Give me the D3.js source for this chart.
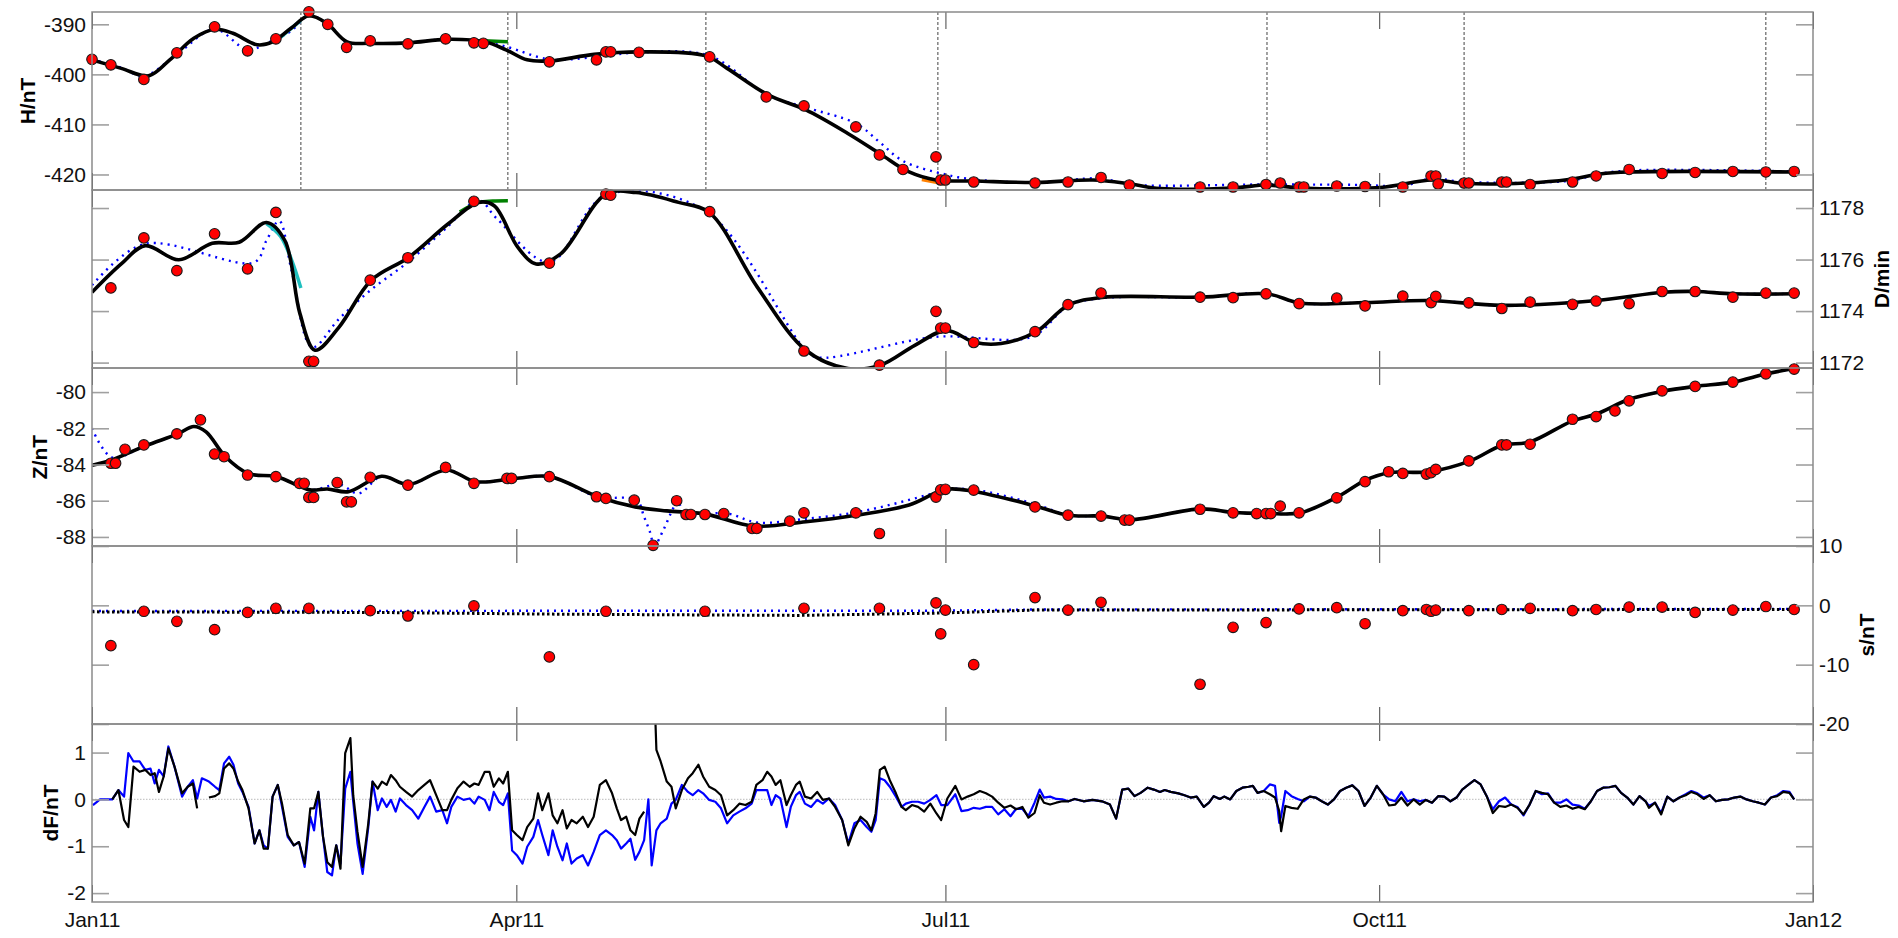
<!DOCTYPE html>
<html><head><meta charset="utf-8">
<script src="https://cdn.jsdelivr.net/npm/d3@7"></script>
<style>body{margin:0;background:#fff;} text{font-family:"Liberation Sans",Arial,Helvetica,sans-serif;}</style>
</head><body><svg id="c" width="1898" height="938"></svg>
<script>
// ---- data (t = days since 2011-01-01) ----
const xTickDates = ["2011-01-01","2011-04-01","2011-07-01","2011-10-01","2012-01-01"];
const xTickLabels = ["Jan11","Apr11","Jul11","Oct11","Jan12"];
const breakDays = [44.3, 88.2, 130.2, 179.4, 249.2, 291.0, 355.0];

const hTicks = [-420,-410,-400,-390];
const dTicks = [1172,1174,1176,1178];
const zTicks = [-88,-86,-84,-82,-80];
const sTicks = [-20,-10,0,10];
const fTicks = [-2,-1,0,1];

const hObs = [[0,-397.0],[4,-398.1],[11,-401.0],[18,-395.7],[26,-390.5],[33,-395.3],[39,-392.9],[46,-387.5],[50,-390.0],[54,-394.6],[59,-393.3],[67,-393.9],[75,-392.9],[81,-393.7],[83,-393.8],[97,-397.5],[107,-397.1],[109,-395.5],[110,-395.5],[116,-395.6],[131,-396.5],[143,-404.5],[151,-406.3],[162,-410.5],[167,-416.1],[172,-419.0],[179,-416.5],[180,-421.1],[181,-421.1],[187,-421.5],[200,-421.7],[207,-421.5],[214,-420.6],[220,-422.1],[235,-422.5],[242,-422.5],[249,-422.0],[252,-421.7],[256,-422.5],[257,-422.5],[264,-422.3],[270,-422.4],[278,-422.5],[284,-420.3],[285,-420.3],[285.5,-421.9],[291,-421.7],[292,-421.7],[299,-421.5],[300,-421.5],[305,-422.0],[314,-421.5],[319,-420.3],[326,-419.0],[333,-419.8],[340,-419.6],[348,-419.4],[355,-419.5],[361,-419.4]];
const hFit = [[0,-397.1],[6.2,-398.8],[12,-400.3],[16.5,-397.1],[21.6,-392.8],[26.1,-391.0],[29.9,-391.8],[35.1,-394.1],[38.3,-393.5],[42.2,-390.8],[46,-388.3],[49.8,-389.8],[54.1,-393.5],[58.9,-393.8],[67.2,-393.7],[75.2,-393.0],[83.3,-393.5],[87.8,-395.1],[92.3,-397.1],[97.3,-397.3],[106.5,-396.0],[116.3,-395.5],[130.2,-396.3],[134.7,-398.8],[143.4,-404.1],[151.4,-407.1],[160.3,-411.8],[167.2,-415.9],[173.3,-419.5],[179,-421.1],[187.3,-421.3],[200.2,-421.6],[212.3,-421.1],[220.3,-421.9],[226.5,-422.8],[242,-422.7],[249.2,-422.1],[256.2,-422.7],[273.2,-422.6],[284.2,-421.1],[291.3,-421.8],[304.3,-421.7],[313.2,-421.0],[319.8,-419.9],[326,-419.5],[361,-419.5]];
const hAlt = [[0,-397.0],[6,-398.6],[11,-400.3],[18,-396.0],[26,-391.0],[33,-395.0],[39,-392.9],[42,-391.5],[46,-388.3],[50,-389.9],[54,-393.5],[59,-393.8],[67,-393.7],[75,-393.0],[83,-393.5],[88,-394.5],[97,-397.0],[107,-396.5],[116,-395.6],[131,-396.3],[143,-404.0],[151,-406.5],[162,-409.8],[167,-413.5],[172,-417.3],[181,-420.0],[187,-421.0],[200,-421.6],[214,-420.8],[220,-422.0],[249,-422.0],[270,-422.1],[278,-422.3],[284,-420.8],[291,-421.5],[314,-421.2],[319,-420.0],[326,-419.2],[361,-419.4]];
const hCyan = [[40,-392.6],[42,-391.0],[44.3,-389.2]];
const hGreen = [[83,-393.3],[88.2,-393.5]];
const hOrange = [[176,-421.0],[181,-421.9]];

const dObs = [[4,1174.9],[11,1176.84],[18,1175.57],[26,1177.0],[33,1175.64],[39,1177.83],[46,1172.05],[47,1172.05],[59,1175.2],[67,1176.07],[81,1178.26],[97,1175.86],[109,1178.54],[110,1178.5],[131,1177.86],[151,1172.45],[167,1171.9],[179,1173.99],[180,1173.34],[181,1173.34],[187,1172.78],[200,1173.2],[207,1174.25],[214,1174.7],[235,1174.54],[242,1174.52],[249,1174.67],[256,1174.29],[264,1174.5],[270,1174.2],[278,1174.58],[284,1174.33],[285,1174.57],[292,1174.32],[299,1174.1],[305,1174.35],[314,1174.26],[319,1174.39],[326,1174.29],[333,1174.76],[340,1174.76],[348,1174.54],[355,1174.7],[361,1174.7]];
const dFit = [[0,1174.73],[6.2,1175.83],[11.3,1176.54],[18.4,1175.99],[25.5,1176.63],[31.2,1176.67],[37,1177.44],[40.9,1176.74],[44.1,1173.9],[47.3,1172.48],[52.4,1173.38],[59.2,1175.19],[67.2,1176.09],[75.5,1177.38],[82,1178.22],[85.3,1178.09],[90.3,1176.48],[94.2,1175.83],[99.4,1176.22],[109,1178.54],[115.4,1178.6],[124.4,1178.22],[130.9,1177.83],[141.1,1174.93],[151.4,1172.48],[160.3,1171.77],[167.2,1171.9],[174.5,1172.67],[181.2,1173.25],[187.3,1172.78],[192.8,1172.74],[200.2,1173.19],[207,1174.22],[214.2,1174.53],[235.2,1174.54],[249.2,1174.67],[256.3,1174.31],[270.2,1174.33],[283.6,1174.41],[299,1174.22],[319.2,1174.41],[333.2,1174.73],[340.2,1174.76],[348,1174.67],[361,1174.67]];
const dAlt = [[0,1175.0],[11,1176.6],[34.5,1175.9],[37,1176.74],[39.7,1177.5],[42.3,1175.6],[46.7,1172.6],[52.4,1173.7],[59,1174.8],[67,1175.9],[75,1177.2],[82,1178.3],[85.8,1177.6],[97,1175.9],[109,1178.5],[130,1177.9],[151.3,1172.5],[154,1172.2],[179,1173.0],[199.3,1173.0],[207,1174.2],[214,1174.5],[235,1174.54],[249,1174.67],[256,1174.31],[270,1174.33],[284,1174.41],[299,1174.22],[319,1174.41],[333,1174.73],[340,1174.76],[348,1174.67],[361,1174.67]];
const dCyan = [[37,1177.4],[40,1176.9],[42.3,1176.0],[44.3,1174.9]];
const dGreen = [[78,1177.85],[82,1178.22],[85,1178.27],[88.2,1178.28]];

const zObs = [[4,-83.93],[5,-83.93],[7,-83.16],[11,-82.92],[18,-82.31],[23,-81.53],[26,-83.42],[28,-83.57],[33,-84.58],[39,-84.67],[44,-85.04],[45,-85.04],[46,-85.82],[47,-85.82],[52,-85.0],[54,-86.06],[55,-86.06],[59,-84.71],[67,-85.14],[75,-84.16],[81,-85.04],[88,-84.77],[89,-84.77],[97,-84.67],[107,-85.78],[109,-85.87],[115,-85.97],[119,-88.46],[124,-86.0],[126,-86.76],[127,-86.76],[130,-86.76],[134,-86.71],[140,-87.53],[141,-87.53],[148,-87.13],[151,-86.67],[162,-86.67],[167,-87.81],[179,-85.8],[180,-85.4],[181,-85.37],[187,-85.41],[200,-86.34],[207,-86.8],[214,-86.85],[219,-87.07],[220,-87.07],[235,-86.47],[242,-86.67],[247,-86.71],[249,-86.71],[250,-86.71],[252,-86.3],[256,-86.67],[264,-85.84],[270,-84.95],[275,-84.4],[278,-84.49],[283,-84.53],[284,-84.45],[285,-84.27],[292,-83.8],[299,-82.92],[300,-82.92],[305,-82.88],[314,-81.5],[319,-81.35],[323,-81.04],[326,-80.48],[333,-79.93],[340,-79.69],[348,-79.45],[355,-78.99],[361,-78.73]];
const zFit = [[0,-84.04],[4.2,-83.75],[11.3,-82.97],[18.2,-82.31],[21.6,-81.9],[24.2,-82.2],[28.3,-83.57],[33.2,-84.5],[39.2,-84.67],[46.2,-85.4],[49.9,-85.35],[54.4,-85.5],[61.4,-84.65],[67.2,-85.1],[75.2,-84.3],[81.4,-84.95],[89.7,-84.77],[97.1,-84.67],[107.3,-85.78],[115.2,-86.34],[121.9,-86.56],[130.2,-86.74],[140.2,-87.4],[151.4,-87.16],[162,-86.8],[173.3,-86.24],[181.1,-85.37],[187.3,-85.5],[200.2,-86.3],[207,-86.8],[214.2,-86.85],[220.2,-87.05],[235.2,-86.45],[242,-86.65],[249.2,-86.7],[256.2,-86.67],[264.1,-85.8],[270.2,-84.85],[275.1,-84.45],[283.6,-84.4],[292.3,-83.8],[299,-82.95],[305,-82.75],[313.9,-81.6],[319.2,-81.2],[326,-80.4],[333.2,-79.95],[340.2,-79.68],[348,-79.45],[355,-79.0],[361,-78.7]];
const zAlt = [[0,-82.0],[4.2,-83.6],[11.3,-82.97],[18.2,-82.31],[21.6,-81.9],[24.2,-82.2],[28.3,-83.57],[33.2,-84.5],[39.2,-84.67],[46.2,-85.4],[52.5,-85.1],[56.5,-85.6],[61.4,-84.65],[67.2,-85.1],[75.2,-84.3],[81.4,-84.95],[89.7,-84.77],[97.1,-84.67],[107.3,-85.78],[115.5,-85.97],[117.1,-86.9],[118.3,-87.7],[119.3,-88.46],[121.2,-87.6],[123.1,-86.5],[124.2,-86.0],[125.7,-86.7],[134.7,-86.7],[141,-87.2],[151.4,-87.0],[162.9,-86.6],[178.3,-85.6],[181.1,-85.37],[187.3,-85.4],[200.2,-86.2],[207,-86.8],[214.2,-86.85],[220.2,-87.05],[235.2,-86.45],[242,-86.65],[249.2,-86.7],[256.2,-86.67],[264.1,-85.8],[270.2,-84.85],[275.1,-84.45],[283.6,-84.4],[292.3,-83.8],[299,-82.95],[305,-82.75],[313.9,-81.6],[319.2,-81.2],[326,-80.4],[333.2,-79.95],[340.2,-79.68],[348,-79.45],[355,-79.0],[361,-78.7]];

const sObs = [[4,-6.8],[11,-1.0],[18,-2.7],[26,-4.1],[33,-1.2],[39,-0.5],[46,-0.5],[59,-0.9],[67,-1.8],[81,-0.1],[97,-8.7],[109,-1.0],[130,-1.0],[151,-0.5],[167,-0.5],[179,0.4],[180,-4.8],[181,-0.8],[187,-10.0],[200,1.3],[207,-0.8],[214,0.5],[235,-13.3],[242,-3.7],[249,-2.9],[256,-0.6],[264,-0.4],[270,-3.1],[278,-0.9],[283,-0.7],[284,-1.0],[285,-0.8],[292,-0.9],[299,-0.7],[305,-0.5],[314,-0.9],[319,-0.7],[326,-0.3],[333,-0.3],[340,-1.2],[348,-0.8],[355,-0.2],[361,-0.7]];
const sFit = [[0,-1.1],[60,-1.2],[100,-1.5],[150,-1.7],[180,-1.3],[200,-0.8],[361,-0.7]];
const sAlt = [[0,-0.95],[180,-0.9],[200,-0.7],[361,-0.6]];

const dfDay = [0.2,1.7,4.3,5.6,6.8,7.7,8.8,10.1,11.3,12.4,13.3,14.2,15.2,16.2,17.5,19.1,20.3,21.4,22.3,23.3,24.8,26.1,27.0,28.0,29.1,30.0,31.0,31.9,33.2,34.5,35.5,36.4,37.3,38.3,39.4,40.3,41.5,42.8,43.9,45.1,46.3,47.1,48.0,49.0,49.9,50.9,51.8,52.7,53.7,54.8,55.4,56.3,57.4,58.6,59.5,60.6,61.5,62.5,63.4,64.4,65.3,66.6,67.9,69.2,70.5,71.7,73.0,74.3,75.3,76.2,77.5,78.8,80.1,81.1,82.0,83.3,84.3,85.2,86.3,87.2,88.2,89.1,90.1,91.3,92.3,93.6,94.6,95.5,96.8,97.7,98.7,99.8,100.7,101.7,102.8,104.1,105.2,106.4,107.7,109.0,110.3,111.3,112.2,113.3,114.2,115.2,116.1,117.1,118.0,118.7,119.7,120.6,121.9,122.9,123.8,125.1,126.4,127.4,128.6,129.6,130.9,132.2,133.4,134.7,136.0,137.3,138.6,139.9,140.9,142.2,143.2,144.1,145.0,146.0,147.3,148.2,149.3,150.1,151.2,152.5,153.8,155.0,156.3,157.6,159.1,160.4,161.7,163.0,164.3,165.3,166.2,167.1,168.1,169.2,170.5,171.7,172.6,173.9,175.2,176.5,177.8,179.1,180.1,181.4,183.1,184.4,185.7,187.0,188.3,189.6,190.9,192.2,193.5,194.8,196.0,197.3,198.6,199.9,201.0,201.9,203.2,204.5,205.8,207.1,208.4,210.3,212.2,214.2,215.9,217.2,218.5,219.8,221.1,222.4,223.9,225.2,226.5,227.5,228.8,230.4,231.7,233.0,234.3,235.8,236.9,237.9,239.2,240.1,241.4,242.7,244.0,245.3,246.2,247.2,248.5,249.8,250.9,251.8,252.2,253.1,254.4,255.7,257.0,258.3,259.5,260.8,262.1,263.4,264.7,266.0,267.3,268.6,269.9,271.2,272.5,273.8,275.1,276.4,277.7,279.0,280.3,281.6,282.9,284.2,285.5,286.8,288.1,289.4,290.6,292.0,293.2,294.5,295.8,297.1,298.4,299.7,301.0,302.3,303.6,304.9,306.2,307.5,308.8,310.1,311.4,312.7,314.0,315.3,316.6,317.9,319.2,320.5,321.8,323.1,324.3,325.6,326.9,328.2,329.5,330.2,331.5,332.8,334.1,335.4,336.7,338.0,339.2,340.5,341.8,343.1,344.4,345.7,347.0,348.3,349.6,350.9,352.2,353.5,354.8,356.1,357.4,358.7,360.0,361.0];
const dfBlue = [-0.12,0,0,0.2,0.06,0.99,0.81,0.81,0.63,0.66,0.34,0.63,0.49,1.13,0.70,0.06,0.27,0.41,0.02,0.45,0.38,0.27,0.20,0.77,0.91,0.74,0.34,0.16,-0.16,-0.94,-0.66,-0.98,-1.05,0.06,0.31,-0.16,-0.80,-0.98,-0.91,-1.44,-0.37,-0.66,0.16,-0.80,-1.55,-1.62,-0.98,-1.37,0.23,0.59,-0.05,-0.94,-1.59,-0.59,0.38,-0.23,0.02,-0.16,-0.01,-0.26,0.02,-0.12,-0.23,-0.41,-0.16,0.06,-0.26,-0.23,-0.51,-0.16,0.06,-0.01,0.02,-0.09,0.06,-0.01,-0.23,0.16,-0.05,-0.12,0.13,-1.09,-1.19,-1.37,-1.01,-0.80,-0.44,-0.76,-1.19,-0.66,-1.01,-1.30,-0.94,-1.37,-1.26,-1.19,-1.41,-1.12,-0.76,-0.66,-0.76,-0.87,-1.05,-0.94,-0.84,-1.29,-1.12,-0.87,0.0,-1.41,-0.66,-0.51,-0.41,-0.09,-0.01,0.31,0.16,0.09,0.20,0.13,-0.01,-0.05,-0.19,-0.51,-0.34,-0.26,-0.19,-0.09,0.20,0.20,0.20,-0.12,0.09,0.02,-0.59,-0.16,0.09,0.16,-0.09,-0.16,-0.01,-0.09,0.02,-0.12,-0.44,-0.94,-0.51,-0.44,-0.59,-0.69,-0.44,0.45,0.41,0.27,0.06,-0.16,-0.09,-0.05,-0.05,-0.09,-0.01,0.09,-0.12,-0.12,0.11,-0.25,-0.23,-0.18,-0.20,-0.16,-0.16,-0.32,-0.21,-0.36,-0.20,-0.20,-0.36,-0.07,0.21,0.04,0.06,0.01,0,-0.04,0.01,-0.04,-0.01,-0.04,-0.11,-0.41,0.21,0.23,0.07,0.14,0.25,0.21,0.16,0.20,0.16,0.13,0.09,0.04,0.06,-0.16,-0.07,0.07,0.01,0.06,0,0.18,0.25,0.27,0.29,0.14,0.18,0.32,0.29,-0.50,-0.36,0.18,0.07,0.01,-0.04,0.06,0.04,-0.04,-0.11,0,0.18,0.25,0.30,0.18,-0.14,0.04,0.29,0.11,0,-0.04,0.16,-0.04,0,-0.04,-0.01,-0.07,0.07,0.06,-0.04,0.04,0.21,0.32,0.41,0.32,0.07,-0.21,-0.04,0.04,-0.11,-0.16,-0.34,-0.11,0.18,0.11,0.13,-0.07,-0.07,0,-0.11,-0.13,-0.20,-0.04,0.18,0.25,0.26,0.29,0.14,0.04,-0.11,0.07,-0.04,-0.14,-0.07,-0.29,0.06,-0.04,0.04,0.11,0.18,0.13,0.04,0.09,-0.04,-0.01,0,0.04,0.06,0,-0.04,-0.07,-0.11,0.04,0.09,0.18,0.16,0];
const dfBlack = [null,null,0,0.2,-0.44,-0.59,0.70,0.59,0.63,0.52,0.56,0.16,0.49,1.09,0.70,0.13,0.27,0.34,-0.19,null,0.04,0.07,0.13,0.66,0.77,0.66,0.38,0.20,-0.19,-0.94,-0.66,-1.05,-1.05,0.06,0.31,-0.09,-0.76,-0.98,-0.91,-1.37,-0.19,-0.19,0.16,-0.80,-1.34,-1.44,-0.98,-1.48,0.99,1.31,0.09,-0.69,-1.44,-0.51,0.38,0.23,0.38,0.31,0.52,0.41,0.27,0.16,0.06,0.20,0.31,0.41,0.09,-0.23,-0.23,-0.01,0.24,0.38,0.27,0.34,0.31,0.59,0.59,0.27,0.45,0.34,0.59,-0.66,-0.76,-0.87,-0.59,-0.41,0.13,-0.23,0.13,-0.34,-0.51,-0.23,-0.62,-0.44,-0.51,-0.37,-0.59,-0.37,0.31,0.41,0.13,-0.19,-0.44,-0.37,-0.66,-0.76,-0.41,-0.26,null,4.0,1.06,0.81,0.38,0.27,-0.19,0.20,0.45,0.56,0.74,0.49,0.27,0.20,0.09,-0.34,-0.23,-0.09,-0.12,-0.05,0.31,0.41,0.59,0.49,0.31,0.41,-0.12,0.09,0.31,0.38,0.06,0.02,0.16,-0.01,0.02,-0.16,-0.44,-0.98,-0.62,-0.37,-0.48,-0.66,-0.30,0.63,0.70,0.41,0.13,-0.16,-0.23,-0.12,-0.16,-0.26,-0.09,-0.30,-0.44,0.02,0.29,0,0.06,0.11,0.18,0.13,0.06,-0.07,-0.18,-0.13,-0.21,-0.16,-0.39,-0.29,0.09,-0.07,-0.11,-0.07,-0.04,-0.04,0.01,-0.04,-0.01,-0.04,-0.11,-0.41,0.21,0.23,0.07,0.14,0.25,0.21,0.16,0.20,0.16,0.13,0.09,0.04,0.06,-0.16,-0.07,0.07,0.01,0.06,0,0.18,0.25,0.27,0.29,0.14,0.18,0.11,0.04,-0.25,-0.68,-0.14,-0.18,-0.20,0,0.06,0.04,-0.04,-0.11,0,0.18,0.25,0.30,0.18,-0.14,0.04,0.29,0.11,-0.13,-0.11,0.04,-0.13,0,-0.11,-0.01,-0.07,0.07,0.06,-0.04,0.04,0.21,0.32,0.41,0.32,0.07,-0.29,-0.14,-0.16,-0.11,-0.18,-0.32,-0.11,0.18,0.14,0.11,-0.07,-0.16,-0.13,-0.20,-0.16,-0.21,-0.04,0.18,0.25,0.26,0.29,0.14,0.04,-0.11,0.07,-0.04,-0.18,-0.07,-0.32,0.06,-0.04,0.04,0.09,0.16,0.11,0.01,0.09,-0.04,-0.01,0,0.04,0.06,0,-0.04,-0.07,-0.11,0.04,0.07,0.16,0.14,0];

// ---- drawing ----
const W = 1898, H = 938;
const X0 = 92, X1 = 1813, TOP = 12, PH = 178;
const BASE = Date.UTC(2011,0,1);
const T = d => new Date(BASE + d*86400000);
const x = d3.scaleUtc().domain([new Date(xTickDates[0]+"T00:00:00Z"), new Date(xTickDates[4]+"T00:00:00Z")]).range([X0, X1]);
const xTickVals = xTickDates.map(s => new Date(s+"T00:00:00Z"));
const numFmt = v => String(v);

const svg = d3.select("#c");
svg.append("rect").attr("width",W).attr("height",H).attr("fill","#fff");
const defs = svg.append("defs");

const panels = [
  {label:"H/nT", side:"left", domain:[-423.1,-387.54], ticks:hTicks, obs:hObs, fit:hFit, alt:hAlt,
   extra:[{c:"#1fbfbf",d:hCyan},{c:"#008000",d:hGreen},{c:"#ff8000",d:hOrange}], breaks:true},
  {label:"D/min", side:"right", domain:[1171.79,1178.7], ticks:dTicks, obs:dObs, fit:dFit, alt:dAlt,
   extra:[{c:"#1fbfbf",d:dCyan},{c:"#008000",d:dGreen}]},
  {label:"Z/nT", side:"left", domain:[-88.5,-78.67], ticks:zTicks, obs:zObs, fit:zFit, alt:zAlt, extra:[]},
  {label:"s/nT", side:"right", domain:[-20,10], ticks:sTicks, obs:sObs, fit:sFit, alt:sAlt, extra:[], dottedFit:true},
  {label:"dF/nT", side:"left", domain:[-2.19,1.61], ticks:fTicks, df:true}
];

panels.forEach((p, i) => {
  const top = TOP + i*PH, bot = top + PH;
  const y = d3.scaleLinear().domain(p.domain).range([bot, top]);
  defs.append("clipPath").attr("id","clip"+i).append("rect")
    .attr("x",X0).attr("y",top).attr("width",X1-X0).attr("height",PH);
  const g = svg.append("g");
  const plot = g.append("g").attr("clip-path",`url(#clip${i})`);

  if (p.breaks) {
    plot.selectAll("line.brk").data(breakDays).join("line")
      .attr("x1",d=>x(T(d))).attr("x2",d=>x(T(d))).attr("y1",top).attr("y2",bot)
      .attr("stroke","#444").attr("stroke-width",1).attr("stroke-dasharray","3,2");
  }

  if (p.df) {
    plot.append("line").attr("x1",X0).attr("x2",X1).attr("y1",y(0)).attr("y2",y(0))
      .attr("stroke","#c8c8c8").attr("stroke-width",1.2).attr("stroke-dasharray","1.5,1.5");
    const mk = vals => d3.line().defined((d,k)=>vals[k]!=null)
      .x((d,k)=>x(T(dfDay[k]))).y((d,k)=>y(vals[k]))(dfDay);
    plot.append("path").attr("d",mk(dfBlue)).attr("fill","none").attr("stroke","#0000ff").attr("stroke-width",2.2).attr("stroke-linejoin","round");
    plot.append("path").attr("d",mk(dfBlack)).attr("fill","none").attr("stroke","#000").attr("stroke-width",2.2).attr("stroke-linejoin","round");
  } else {
    const smooth = d3.line().x(d=>x(T(d[0]))).y(d=>y(d[1])).curve(d3.curveCatmullRom.alpha(0.5));
    const lin = d3.line().x(d=>x(T(d[0]))).y(d=>y(d[1]));
    plot.append("path").attr("d", p.dottedFit ? lin(p.alt) : smooth(p.alt)).attr("fill","none")
      .attr("stroke","#0000ff").attr("stroke-width",2.4).attr("stroke-dasharray","2,5");
    p.extra.forEach(e => {
      plot.append("path").attr("d",smooth(e.d)).attr("fill","none").attr("stroke",e.c).attr("stroke-width",3.5);
    });
    if (p.dottedFit) {
      plot.append("path").attr("d",lin(p.fit)).attr("fill","none").attr("stroke","#000")
        .attr("stroke-width",3).attr("stroke-dasharray","2.5,2.5");
    } else {
      plot.append("path").attr("d",smooth(p.fit)).attr("fill","none").attr("stroke","#000")
        .attr("stroke-width",3.6).attr("stroke-linejoin","round");
    }
    g.selectAll("circle").data(p.obs).join("circle")
      .attr("cx",d=>x(T(d[0]))).attr("cy",d=>y(d[1])).attr("r",5.3)
      .attr("fill","#ff0000").attr("stroke","#1a1a1a").attr("stroke-width",1.1);
  }

  const styleAx = (sel, tickCol, tickW) => {
    sel.attr("font-size",null).attr("font-family",null);
    sel.select(".domain").remove();
    sel.selectAll(".tick line").attr("stroke",tickCol).attr("stroke-width",tickW);
    sel.selectAll(".tick text").attr("fill","#111").style("font-size","21px");
  };
  const axL = d3.axisLeft(y).tickValues(p.ticks).tickSize(-17).tickSizeOuter(0).tickPadding(6)
    .tickFormat(p.side === "left" ? numFmt : "");
  const axR = d3.axisRight(y).tickValues(p.ticks).tickSize(-17).tickSizeOuter(0).tickPadding(6)
    .tickFormat(p.side === "right" ? numFmt : "");
  const gl = g.append("g").attr("transform",`translate(${X0},0)`).call(axL); styleAx(gl,"#a0a0a0",1.6);
  const gr = g.append("g").attr("transform",`translate(${X1},0)`).call(axR); styleAx(gr,"#a0a0a0",1.6);

  const axT = d3.axisTop(x).tickValues(xTickVals).tickSize(-17).tickSizeOuter(0).tickFormat("");
  const axB = d3.axisBottom(x).tickValues(xTickVals).tickSize(-17).tickSizeOuter(0).tickPadding(10)
    .tickFormat((d,k)=> i===panels.length-1 ? xTickLabels[k] : "");
  const gt = g.append("g").attr("transform",`translate(0,${top})`).call(axT); styleAx(gt,"#444",1);
  const gb = g.append("g").attr("transform",`translate(0,${bot})`).call(axB); styleAx(gb,"#444",1);

  g.append("rect").attr("x",X0).attr("y",top).attr("width",X1-X0).attr("height",PH)
    .attr("fill","none").attr("stroke","#8a8a8a").attr("stroke-width",1.5);

  const labSel = p.side === "left" ? gl : gr;
  let ext = p.side === "left" ? Infinity : -Infinity;
  labSel.selectAll(".tick text").each(function(){
    const b = this.getBBox();
    if (p.side === "left") ext = Math.min(ext, X0 + b.x); else ext = Math.max(ext, X1 + b.x + b.width);
  });
  const bx = p.side === "left" ? ext - 9 : ext + 25;
  svg.append("text").attr("transform",`translate(${bx},${(top+bot)/2}) rotate(-90)`)
    .attr("text-anchor","middle").attr("font-weight","bold").style("font-size","21px")
    .attr("fill","#000").text(p.label);
});
</script>
</body></html>
